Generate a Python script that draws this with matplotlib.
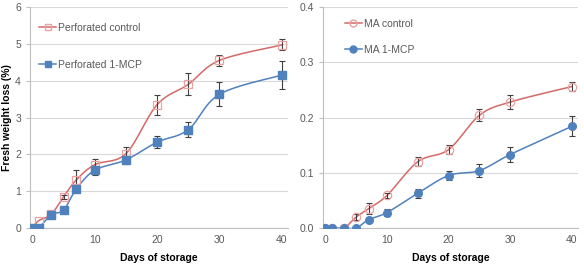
import numpy as np
import matplotlib
matplotlib.use('Agg')
import matplotlib.pyplot as plt

plt.rcParams['font.family'] = ['Liberation Sans', 'DejaVu Sans']

# storage days
days = [0, 1, 3, 5, 7, 10, 15, 20, 25, 30, 40]

# perforated packaging (left panel)
perf_control = [0, 0.2, 0.37, 0.85, 1.3, 1.72, 2.02, 3.35, 3.9, 4.55, 4.97]
perf_control_err = [0, 0, 0.03, 0.05, 0.28, 0.15, 0.17, 0.27, 0.3, 0.15, 0.15]
perf_mcp = [0, 0, 0.36, 0.49, 1.05, 1.57, 1.85, 2.33, 2.67, 3.63, 4.15]
perf_mcp_err = [0, 0, 0.03, 0.04, 0.06, 0.12, 0.1, 0.17, 0.2, 0.33, 0.38]

# modified atmosphere packaging (right panel)
ma_control = [0, 0, 0, 0.02, 0.035, 0.059, 0.12, 0.142, 0.204, 0.228, 0.256]
ma_control_err = [0, 0, 0, 0.005, 0.01, 0.005, 0.008, 0.008, 0.011, 0.013, 0.008]
ma_mcp = [0, 0, 0, 0, 0.015, 0.028, 0.063, 0.095, 0.104, 0.133, 0.184]
ma_mcp_err = [0, 0, 0, 0, 0.004, 0.007, 0.008, 0.009, 0.012, 0.013, 0.018]

RED = '#D46A68'
RED_MK = '#E8A3A2'
BLUE = '#4F81BD'
GRID = '#D9D9D9'
TXT = '#595959'


# Excel-like smoothed line (Catmull-Rom bezier through the points)
def smooth(x, y, n=20):
    p = np.column_stack([x, y]).astype(float)
    p = np.vstack([p[0], p, p[-1]])
    out = []
    t = np.linspace(0, 1, n)[:, None]
    for i in range(1, len(p) - 2):
        p0, p1, p2, p3 = p[i - 1], p[i], p[i + 1], p[i + 2]
        c1 = p1 + (p2 - p0) / 6
        c2 = p2 - (p3 - p1) / 6
        seg = ((1 - t) ** 3) * p1 + 3 * ((1 - t) ** 2) * t * c1 + 3 * (1 - t) * t ** 2 * c2 + t ** 3 * p2
        out.append(seg)
    out = np.vstack(out)
    return out[:, 0], out[:, 1]


def draw_series(ax, y, err, color, mkcolor, marker, filled, label):
    sx, sy = smooth(days, y)
    ax.plot(sx, sy, color=color, lw=1.1, zorder=2)
    # only draw error bars where there is an error
    keep = [i for i, e in enumerate(err) if e > 0]
    ax.errorbar([days[i] for i in keep], [y[i] for i in keep], yerr=[err[i] for i in keep],
                fmt='none', ecolor='#404040', elinewidth=0.8, capsize=2, capthick=0.8, zorder=3)
    if filled:
        ax.plot(days, y, ls='none', marker=marker, ms=5.5, mfc=mkcolor, mec=mkcolor, zorder=4)
    else:
        ax.plot(days, y, ls='none', marker=marker, ms=6, mfc='none', mec=mkcolor, mew=0.9, zorder=4)
    ax.plot([], [], color=color, lw=1.1, marker=marker, ms=5,
            mfc=mkcolor if filled else 'none', mec=mkcolor, label=label)


def style_axes(ax, ylim, yticks, yfmt):
    ax.set_xlim(-0.4, 41)
    ax.set_ylim(*ylim)
    ax.set_yticks(yticks)
    ax.set_yticklabels([yfmt.format(v) for v in yticks])
    ax.set_xticks([0, 10, 20, 30, 40])
    ax.grid(axis='y', color=GRID, lw=0.8)
    ax.set_axisbelow(True)
    for s in ['top', 'right']:
        ax.spines[s].set_visible(False)
    for s in ['left', 'bottom']:
        ax.spines[s].set_color('#BFBFBF')
        ax.spines[s].set_linewidth(0.8)
    ax.tick_params(axis='y', colors='#BFBFBF', labelcolor=TXT, labelsize=7.5, length=3, width=0.8)
    ax.tick_params(axis='x', length=0, labelcolor=TXT, labelsize=7.5, pad=5)
    ax.set_xlabel('Days of storage', fontsize=7.5, fontweight='bold', labelpad=6)


fig = plt.figure(figsize=(5.84, 2.64), dpi=100)
ax1 = fig.add_axes([30 / 584, 1 - 228 / 264, 258 / 584, 221 / 264])
ax2 = fig.add_axes([323 / 584, 1 - 228 / 264, 255 / 584, 221 / 264])

draw_series(ax1, perf_control, perf_control_err, RED, RED_MK, 's', False, 'Perforated control')
draw_series(ax1, perf_mcp, perf_mcp_err, BLUE, BLUE, 's', True, 'Perforated 1-MCP')
style_axes(ax1, (0, 6), [0, 1, 2, 3, 4, 5, 6], '{:.0f}')
ax1.set_ylabel('Fresh weight loss (%)', fontsize=7.5, fontweight='bold')
ax1.yaxis.set_label_coords(-0.07, 0.5)
ax1.legend(loc='upper left', bbox_to_anchor=(0.0, 0.97), frameon=False, fontsize=7.5,
           handlelength=1.6, handletextpad=0.2, labelspacing=2.6, labelcolor=TXT)

draw_series(ax2, ma_control, ma_control_err, RED, RED_MK, 'o', False, 'MA control')
draw_series(ax2, ma_mcp, ma_mcp_err, BLUE, BLUE, 'o', True, 'MA 1-MCP')
style_axes(ax2, (0, 0.4), [0.0, 0.1, 0.2, 0.3, 0.4], '{:.1f}')
ax2.legend(loc='upper left', bbox_to_anchor=(0.05, 0.99), frameon=False, fontsize=7.5,
           handlelength=1.6, handletextpad=0.2, labelspacing=1.55, labelcolor=TXT)

fig.savefig('out.png', dpi=100)
